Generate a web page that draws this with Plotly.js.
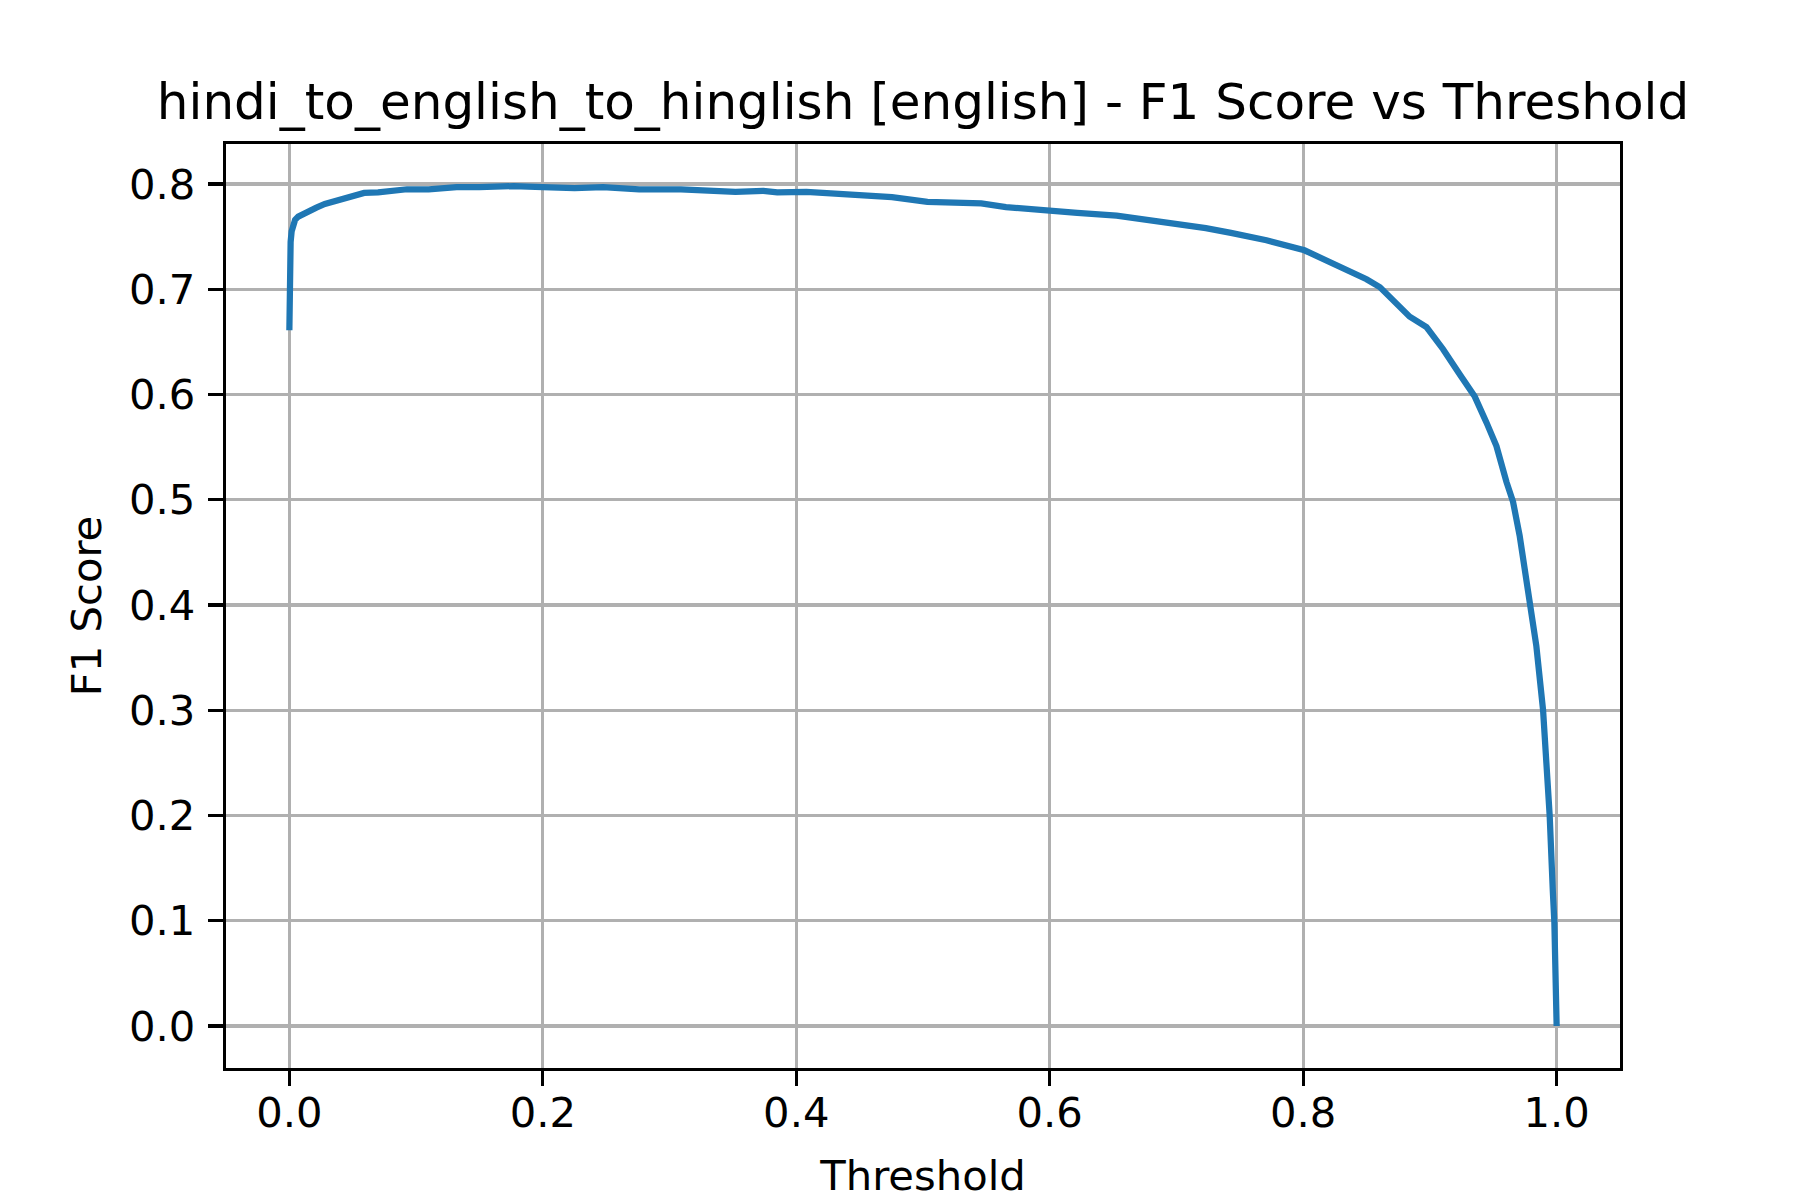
<!DOCTYPE html>
<html>
<head>
<meta charset="utf-8">
<script src="https://cdn.plot.ly/plotly-3.0.1.min.js"></script>
<style>html,body{margin:0;padding:0;background:#fff;}#chart{width:1800px;height:1200px;}</style>
</head>
<body>
<div id="chart"></div>
<script>
// Data
const threshold = [
  0.0000, 0.0002, 0.0005, 0.0010, 0.0018, 0.0030, 0.0045, 0.0070, 0.0100, 0.0150,
  0.0213, 0.0280, 0.0357, 0.0450, 0.0520, 0.0590, 0.0700, 0.0800, 0.0928, 0.1100,
  0.1320, 0.1500, 0.1770, 0.2000, 0.2250, 0.2475, 0.2760, 0.3090, 0.3300, 0.3520,
  0.3740, 0.3850, 0.4080, 0.4270, 0.4390, 0.4755, 0.5035, 0.5460, 0.5655, 0.6000,
  0.6217, 0.6528, 0.6866, 0.7232, 0.7430, 0.7710, 0.8010, 0.8190, 0.8360, 0.8500,
  0.8605, 0.8710, 0.8840, 0.8973, 0.9104, 0.9236, 0.9354, 0.9446, 0.9525, 0.9604,
  0.9656, 0.9708, 0.9760, 0.9800, 0.9840, 0.9893, 0.9924, 0.9945, 0.9970, 0.9982,
  1.0000
];
const f1Score = [
  0.661, 0.700, 0.728, 0.745, 0.755, 0.762, 0.766, 0.769, 0.771, 0.774,
  0.7775, 0.781, 0.784, 0.787, 0.789, 0.7915, 0.792, 0.793, 0.795, 0.795,
  0.797, 0.797, 0.798, 0.797, 0.796, 0.797, 0.795, 0.795, 0.794, 0.7925,
  0.7935, 0.792, 0.7925, 0.791, 0.790, 0.7875, 0.783, 0.7815, 0.778, 0.7755,
  0.7725, 0.770, 0.7645, 0.758, 0.7535, 0.7465, 0.737, 0.727, 0.716, 0.7095,
  0.702, 0.689, 0.674, 0.664, 0.643, 0.619, 0.598, 0.5735, 0.551, 0.517,
  0.498, 0.466, 0.4245, 0.399, 0.361, 0.300, 0.250, 0.200, 0.128, 0.0985,
  0.000
];
const xTickVals = [0, 0.2, 0.4, 0.6, 0.8, 1.0];
const xTickText = ['0.0', '0.2', '0.4', '0.6', '0.8', '1.0'];
const yTickVals = [0, 0.1, 0.2, 0.3, 0.4, 0.5, 0.6, 0.7, 0.8];
const yTickText = ['0.0', '0.1', '0.2', '0.3', '0.4', '0.5', '0.6', '0.7', '0.8'];

const FONT = 'DejaVu Sans, sans-serif';
const tickFontSize = 41.7;

const trace = {
  type: 'scatter',
  mode: 'lines',
  x: threshold,
  y: f1Score,
  line: {color: '#1f77b4', width: 6.25},
  hoverinfo: 'skip',
  showlegend: false
};

const axisCommon = {
  ticks: 'outside',
  ticklen: 15,
  tickwidth: 3.3,
  tickcolor: '#000',
  showline: true,
  linewidth: 3.3,
  linecolor: '#000',
  mirror: true,
  showgrid: true,
  gridcolor: '#b0b0b0',
  gridwidth: 3.3,
  zeroline: false,
  tickfont: {family: FONT, size: tickFontSize, color: '#000'},
  automargin: false
};

const layout = {
  width: 1800,
  height: 1200,
  margin: {l: 226, r: 180, t: 144, b: 132},
  paper_bgcolor: '#fff',
  plot_bgcolor: '#fff',
  font: {family: FONT, color: '#000'},
  title: {
    text: 'hindi_to_english_to_hinglish [english] - F1 Score vs Threshold',
    font: {family: FONT, size: 50, color: '#000'},
    xref: 'paper', x: 0.5, xanchor: 'center',
    yref: 'container', y: 0.93, yanchor: 'top'
  },
  xaxis: Object.assign({}, axisCommon, {
    range: [-0.05, 1.05],
    tickvals: xTickVals,
    ticktext: xTickText,
    ticklabelstandoff: -9,
    title: {text: 'Threshold', font: {family: FONT, size: tickFontSize, color: '#000'}, standoff: 32}
  }),
  yaxis: Object.assign({}, axisCommon, {
    range: [-0.0399, 0.838],
    tickvals: yTickVals,
    ticktext: yTickText,
    ticklabelstandoff: 4,
    title: {text: 'F1 Score', font: {family: FONT, size: tickFontSize, color: '#000'}, standoff: 15}
  })
};

Plotly.newPlot('chart', [trace], layout, {staticPlot: true, displayModeBar: false});
</script>
</body>
</html>
